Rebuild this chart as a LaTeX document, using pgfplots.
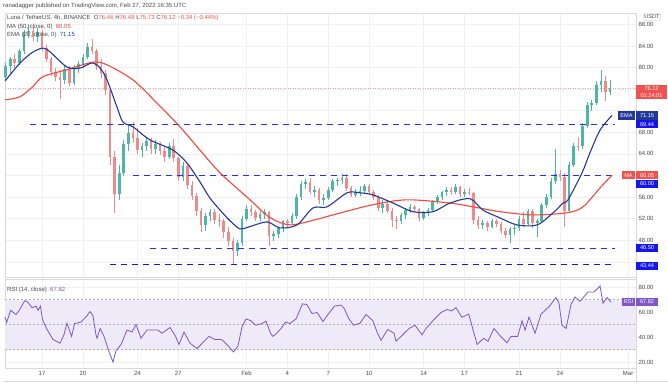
\documentclass[border=0pt]{standalone}
\usepackage{pgfplots}
\pgfplotsset{compat=1.18}
\usepackage{pgfplotstable}
\usepackage{fontspec}
\setmainfont{Liberation Sans}
\definecolor{cup}{HTML}{4DB6A4}
\definecolor{cdn}{HTML}{F08A8A}
\definecolor{ema}{HTML}{23399A}
\definecolor{ma}{HTML}{F2483E}
\definecolor{hl}{HTML}{2B2BF5}
\definecolor{hlbox}{HTML}{1515F0}
\definecolor{rsi}{HTML}{7E57C2}
\definecolor{rsiband}{HTML}{EFEAF8}
\definecolor{gridc}{HTML}{EEF0F4}
\definecolor{txt}{HTML}{4A4A4A}
\definecolor{pricebox}{HTML}{EF5350}

\pgfplotstableread{
x o h l c
14.333 78.2 80.8 77.6 80.2
14.667 80.2 82.0 79.0 81.5
15 81.5 82.5 80.0 80.8
15.333 80.8 83.5 80.5 83.0
15.667 83.0 87.0 82.5 86.5
16 86.5 88.0 85.5 86.8
16.333 86.8 87.5 85.0 85.6
16.667 85.6 87.3 84.8 86.5
17 86.5 87.0 83.0 83.6
17.333 83.6 84.2 81.0 81.6
17.667 81.6 82.0 78.5 79.2
18 79.2 80.0 77.5 78.3
18.333 78.3 79.5 74.2 77.6
18.667 77.6 80.5 77.0 79.8
19 79.8 80.2 76.5 77.2
19.333 77.2 80.5 76.8 80.0
19.667 80.0 81.2 79.0 80.6
20 80.6 82.5 80.0 82.0
20.333 82.0 84.5 81.5 83.8
20.667 83.8 85.3 82.5 83.0
21 83.0 83.5 79.5 80.2
21.333 80.2 81.5 78.0 79.0
21.667 79.0 79.5 75.0 75.8
22 75.8 76.2 62.0 63.5
22.333 63.5 64.5 53.0 56.5
22.667 56.5 62.0 55.5 60.5
23 60.5 66.5 60.0 65.8
23.333 65.8 69.5 64.5 67.8
23.667 67.8 70.0 66.0 67.0
24 67.0 68.8 64.0 64.8
24.333 64.8 66.0 63.5 65.5
24.667 65.5 67.0 64.5 66.3
25 66.3 67.0 64.0 65.0
25.333 65.0 66.5 64.0 65.8
25.667 65.8 66.2 63.8 64.6
26 64.6 65.5 62.5 63.4
26.333 63.4 66.0 63.0 65.5
26.667 65.5 66.8 62.5 63.2
27 63.2 63.5 59.0 59.8
27.333 59.8 62.5 59.0 61.8
27.667 61.8 62.0 57.5 58.2
28 58.2 59.0 55.5 56.2
28.333 56.2 56.8 52.5 53.5
28.667 53.5 54.0 49.5 50.8
29 50.8 53.0 49.8 52.5
29.333 52.5 53.8 51.5 53.2
29.667 53.2 53.8 51.0 51.8
30 51.8 52.8 50.5 51.5
30.333 51.5 52.0 48.5 49.5
30.667 49.5 50.5 47.0 47.8
31 47.8 48.5 43.4 46.0
31.333 46.0 48.0 45.0 47.5
31.667 47.5 52.5 47.0 52.0
32 52.0 54.5 51.5 53.8
32.333 53.8 54.6 52.5 53.2
32.667 53.2 53.6 51.5 52.2
33 52.2 53.5 51.5 52.8
33.333 52.8 53.8 52.0 53.2
33.667 53.2 53.5 47.0 48.8
34 48.8 49.8 47.8 49.2
34.333 49.2 50.5 48.5 50.2
34.667 50.2 51.8 49.5 51.5
35 51.5 52.0 50.5 51.2
35.333 51.2 53.0 50.8 52.5
35.667 52.5 56.5 52.0 56.0
36 56.0 59.0 55.5 58.5
36.333 58.5 59.3 57.5 58.8
36.667 58.8 59.5 56.5 57.0
37 57.0 58.0 56.0 57.3
37.333 57.3 57.6 54.8 55.4
37.667 55.4 56.5 54.5 55.8
38 55.8 57.8 55.5 57.4
38.333 57.4 59.3 57.0 58.9
38.667 58.9 59.6 58.0 59.2
39 59.2 60.2 58.5 59.6
39.333 59.6 60.3 57.2 57.6
39.667 57.6 58.0 56.0 56.4
40 56.4 57.5 56.0 57.0
40.333 57.0 58.0 56.2 57.2
40.667 57.2 58.5 56.8 58.0
41 58.0 58.4 56.5 57.0
41.333 57.0 57.4 55.5 56.0
41.667 56.0 56.3 53.5 54.0
42 54.0 55.5 53.0 54.8
42.333 54.8 55.2 53.0 53.5
42.667 53.5 54.0 50.5 51.8
43 51.8 52.5 50.0 51.5
43.333 51.5 53.0 51.0 52.6
43.667 52.6 54.0 52.0 53.6
44 53.6 54.8 53.0 54.2
44.333 54.2 54.6 53.2 53.8
44.667 53.8 54.0 51.5 52.2
45 52.2 53.5 51.8 53.0
45.333 53.0 54.0 52.5 53.6
45.667 53.6 55.5 53.2 55.2
46 55.2 56.4 54.8 56.0
46.333 56.0 57.2 55.5 56.9
46.667 56.9 57.8 56.2 57.4
47 57.4 57.9 56.4 57.0
47.333 57.0 58.4 56.6 57.8
47.667 57.8 58.0 56.0 56.5
48 56.5 57.5 56.0 57.0
48.333 57.0 57.6 56.4 56.8
48.667 56.8 57.0 51.0 51.8
49 51.8 52.5 50.0 50.8
49.333 50.8 51.8 50.0 51.2
49.667 51.2 51.5 49.8 50.5
50 50.5 52.0 50.2 51.6
50.333 51.6 52.0 50.5 51.0
50.667 51.0 51.3 49.2 49.8
51 49.8 50.2 48.5 49.0
51.333 49.0 50.5 47.5 50.0
51.667 50.0 50.8 49.0 50.2
52 50.2 52.5 49.8 52.0
52.333 52.0 53.2 50.5 51.0
52.667 51.0 53.8 50.8 53.4
53 53.4 53.8 50.2 51.2
53.333 51.2 52.0 48.6 51.6
53.667 51.6 55.0 51.2 54.6
54 54.6 56.5 54.0 56.0
54.333 56.0 59.5 55.6 59.0
54.667 59.0 65.0 58.5 60.2
55 60.2 61.0 59.0 59.8
55.333 59.8 60.5 50.5 53.5
55.667 53.5 62.5 53.0 62.0
56 62.0 66.0 61.5 65.5
56.333 65.5 67.2 64.5 65.4
56.667 65.4 69.8 65.0 69.2
57 69.2 73.6 68.8 73.0
57.333 73.0 74.0 72.0 73.4
57.667 73.4 77.5 73.0 76.8
58 76.8 79.6 75.5 77.5
58.333 77.5 78.5 73.8 75.4
58.667 75.4 77.6 75.0 76.12
}\candles

\pgfplotsset{tvaxis/.style={scale only axis, width=631pt, xmin=14.285, xmax=60.58,
  axis line style={draw=gray!30}, tick style={draw=none}, grid=major,
  major grid style={draw=gridc, line width=0.5pt},
  xtick={17,20,24,27,32,35,38,41,45,48,52,55,60},
  yticklabel pos=right, clip=false,
  ticklabel style={font=\fontsize{6}{7}\selectfont, text=txt},
  yticklabel style={anchor=west, xshift=-1pt},
  /pgf/number format/fixed, /pgf/number format/fixed zerofill,
  /pgf/number format/precision=2, /pgf/number format/assume math mode=true}}

\begin{document}
\begin{tikzpicture}[x=1pt,y=1pt]
\useasboundingbox (0,0) rectangle (668,384);
\fill[white] (0,0) rectangle (668,384);

% ---------- price pane ----------
\begin{axis}[tvaxis, at={(5pt,107pt)}, anchor=south west, height=264pt,
  ymin=41.2, ymax=90.1, ytick={44,48,...,88},
  yticklabels={,48.00,52.00,56.00,,64.00,68.00,,,80.00,84.00,88.00}, xticklabels={}]
\addplot[pricebox!55, line width=0.5pt, dotted] coordinates {(14.285,76.12) (60.58,76.12)};
% wicks
\addplot[draw=none, forget plot, restrict expr to domain={\thisrow{c}-\thisrow{o}}{0:1000},
  error bars/.cd, y dir=plus, y explicit, error mark=none,
  error bar style={draw=cup, line width=0.6pt}]
  table[x=x, y=l, y error expr=\thisrow{h}-\thisrow{l}] {\candles};
\addplot[draw=none, forget plot, restrict expr to domain={\thisrow{o}-\thisrow{c}}{0.0001:1000},
  error bars/.cd, y dir=plus, y explicit, error mark=none,
  error bar style={draw=cdn, line width=0.6pt}]
  table[x=x, y=l, y error expr=\thisrow{h}-\thisrow{l}] {\candles};
% bodies
\addplot[draw=none, forget plot, restrict expr to domain={\thisrow{c}-\thisrow{o}}{0:1000},
  error bars/.cd, y dir=plus, y explicit, error mark=none,
  error bar style={draw=cup, line width=2.6pt}]
  table[x=x, y=o, y error expr=\thisrow{c}-\thisrow{o}] {\candles};
\addplot[draw=none, forget plot, restrict expr to domain={\thisrow{o}-\thisrow{c}}{0.0001:1000},
  error bars/.cd, y dir=plus, y explicit, error mark=none,
  error bar style={draw=cdn, line width=2.6pt}]
  table[x=x, y=c, y error expr=\thisrow{o}-\thisrow{c}] {\candles};
% horizontal levels
\addplot[hl, line width=1.2pt, dash pattern=on 6pt off 5pt] coordinates {(16.12,69.44) (59.04,69.44)};
\addplot[hl, line width=1.2pt, dash pattern=on 6pt off 5pt] coordinates {(23.68,60.00) (59.04,60.00)};
\addplot[hl, line width=1.2pt, dash pattern=on 6pt off 5pt] coordinates {(24.92,46.50) (59.04,46.50)};
\addplot[hlbox, line width=1.1pt, dash pattern=on 6pt off 5pt] coordinates {(21.99,43.44) (59.04,43.44)};
% MA 50
\addplot[ma, line width=1.1pt, smooth, tension=0.5] coordinates {
(14.29,74.0) (15.39,74.6) (16.3,76.4) (17.07,78.3) (18.83,79.6) (20.74,81.0) (21.77,80.5)
(23.68,77.7) (25.44,73.4) (27.13,69.0) (28.59,64.7) (30.06,60.5) (32.26,55.5) (33.73,52.2)
(35.20,50.85) (37.03,51.8) (38.35,52.7) (41.28,54.6) (43.78,55.5) (46.93,54.9) (48.62,54.2)
(50.60,53.3) (53.02,52.7) (55.52,53.1) (56.69,54.2) (57.94,57.7) (58.82,60.05)};
% EMA 20
\addplot[ema, line width=1.1pt, smooth, tension=0.5] coordinates {
(14.29,77.5) (15.39,80.85) (16.3,82.8) (17.07,83.6) (17.59,82.9) (18.83,80.1) (19.79,79.9)
(20.67,80.85) (21.26,79.9) (21.77,77.7) (22.50,72.7) (22.94,69.9) (23.68,69.0) (24.92,66.6)
(26.61,64.7) (27.64,62.3) (28.59,58.8) (29.3,55.9) (30.06,53.6) (30.8,51.6) (31.53,50.1)
(32.2,50.5) (33.51,51.4) (34.46,50.3) (35.71,50.85) (36.88,54.0) (37.91,54.2) (39.38,56.8)
(40.3,56.8) (41.28,56.4) (42.75,54.9) (44.22,53.3) (45.69,53.3) (46.93,54.9) (48.40,55.7)
(49.35,53.6) (50.60,52.15) (51.85,50.85) (53.32,50.85) (54.49,53.07) (55.22,54.9) (55.59,55.5)
(56.62,60.5) (57.20,64.2) (57.94,68.4) (58.82,71.15)};
\end{axis}

% ---------- RSI pane ----------
\begin{axis}[tvaxis, at={(5pt,16pt)}, anchor=south west, height=89pt,
  ymin=15.2, ymax=86.4, ytick={20,40,60,80},
  xticklabels={17,20,24,27,Feb,4,7,10,14,17,21,24,Mar}]
\addplot[fill=rsiband, draw=none] coordinates {(14.285,30) (60.58,30) (60.58,70) (14.285,70)} -- cycle;
\addplot[gray!60, line width=0.5pt, dash pattern=on 2pt off 2pt] coordinates {(14.285,70) (60.58,70)};
\addplot[gray!60, line width=0.5pt, dash pattern=on 2pt off 2pt] coordinates {(14.285,50) (60.58,50)};
\addplot[gray!60, line width=0.5pt, dash pattern=on 2pt off 2pt] coordinates {(14.285,30) (60.58,30)};
\addplot[rsi, line width=0.8pt] coordinates {
(14.29,56) (14.40,51.5) (14.70,61.4) (15.09,58) (15.31,61) (15.73,69) (15.95,68) (16.27,63.4)
(16.56,64.7) (16.71,61.4) (16.89,64.7) (17.04,53.7) (17.37,46) (17.81,38) (18.32,35) (18.61,41.7)
(18.83,51) (19.17,40.5) (19.39,50.7) (19.86,52) (20.30,57) (20.52,60.4) (20.74,57) (20.96,41.7)
(21.04,39) (21.26,46.8) (21.55,40.5) (21.89,29) (22.21,20) (22.43,29) (22.80,34) (23.24,45.6)
(23.60,44) (23.90,50) (24.26,39) (24.70,45.6) (25.51,45.6) (25.80,43) (26.39,47.6) (26.80,40.5)
(27.05,34) (27.42,44) (27.86,35) (28.37,30.8) (29.25,40.5) (29.69,38) (30.18,38) (30.65,33)
(31.05,28) (31.38,32.8) (31.67,48) (31.97,54.5) (32.33,53) (32.67,49.4) (33.14,50.7) (33.43,52.7)
(33.77,43) (33.93,40.5) (34.17,42.5) (34.54,46.8) (34.87,52) (35.17,50.7) (35.64,54.5) (36.11,66.5)
(36.43,66) (36.81,58.8) (37.18,59.6) (37.62,52.4) (37.98,58) (38.46,64.7) (38.94,65.5) (39.16,63)
(39.52,54.5) (39.86,49.4) (40.33,51) (40.77,58) (41.28,53) (41.58,44) (41.87,37.4) (42.36,46)
(42.83,43) (42.97,36.6) (43.46,41.7) (43.93,46.8) (44.37,49.4) (44.88,41.7) (45.17,46.8) (45.80,54.5)
(46.27,59.6) (46.71,62) (47.05,60.9) (47.37,63.4) (47.81,55.8) (48.31,58.3) (48.92,34) (49.40,39)
(49.72,36.6) (50.16,46.8) (50.65,40.5) (51.12,35.4) (51.41,40.5) (51.90,40.5) (52.22,53) (52.44,45.6)
(52.73,56) (53.17,43) (53.61,58.3) (54.24,64.7) (54.71,71.6) (54.93,67) (55.15,49.4) (55.45,46.8)
(55.81,66) (56.10,72) (56.47,68.5) (57.06,76) (57.50,76) (57.94,80.8) (58.16,67) (58.45,71.6) (58.75,67.8)};
\end{axis}

% frame lines
\draw[gray!30, line width=0.5pt] (3,3) -- (668,3);
\draw[gray!30, line width=0.5pt] (636,3) -- (636,371);

% ---------- header texts ----------
\begin{scope}[every node/.style={anchor=west, inner sep=0pt, text=txt, font=\fontsize{6}{7}\selectfont}]
\node at (3,378) {ranadagger published on TradingView.com, Feb 27, 2022 16:35 UTC};
\node at (7,366) {Luna / TetherUS, 4h, BINANCE\ \ O\textcolor{pricebox}{76.46}\ H\textcolor{pricebox}{76.48}\ L\textcolor{pricebox}{75.73}\ C\textcolor{pricebox}{76.12}\ \textcolor{pricebox}{−0.34 (−0.44\%)}};
\node at (7,357) {MA (50, close, 0)\ \ \textcolor{ma}{60.05}};
\node at (7,349) {EMA (20, close, 0)\ \ \textcolor{ema}{71.15}};
\node at (7,94) {RSI (14, close)\ \ \textcolor{rsi}{67.82}};
\end{scope}

% ---------- right-side value boxes ----------
\begin{scope}[every node/.style={inner sep=0.5pt, text=white, font=\fontsize{5.6}{6.2}\selectfont, minimum height=8.4pt}]
\node[draw=gray!50, fill=white, text=txt, minimum width=13pt, minimum height=7pt, rounded corners=1pt] at (652,367) {USDT};
\node[fill=pricebox, align=center, minimum width=31pt, minimum height=14pt] at (651.5,292) {76.12\\01:24:01};
\node[fill=hlbox, minimum width=22pt] at (647,259.8) {69.44};
\node[fill=ema, minimum width=22pt] at (647,268.4) {71.15};
\node[fill=ema, minimum width=17pt] at (626.5,268.4) {EMA};
\node[fill=hlbox, minimum width=22pt] at (647,200.2) {60.00};
\node[fill=pricebox, minimum width=22pt] at (647,208.8) {60.05};
\node[fill=pricebox, minimum width=13pt] at (628.5,208.8) {MA};
\node[fill=hlbox, minimum width=22pt] at (647,136) {46.50};
\node[fill=hlbox, minimum width=22pt] at (647,118) {43.44};
\node[fill=rsi, minimum width=13pt] at (628.5,82) {RSI};
\node[fill=rsi, minimum width=22pt] at (647,82) {67.82};
\end{scope}
\end{tikzpicture}
\end{document}
